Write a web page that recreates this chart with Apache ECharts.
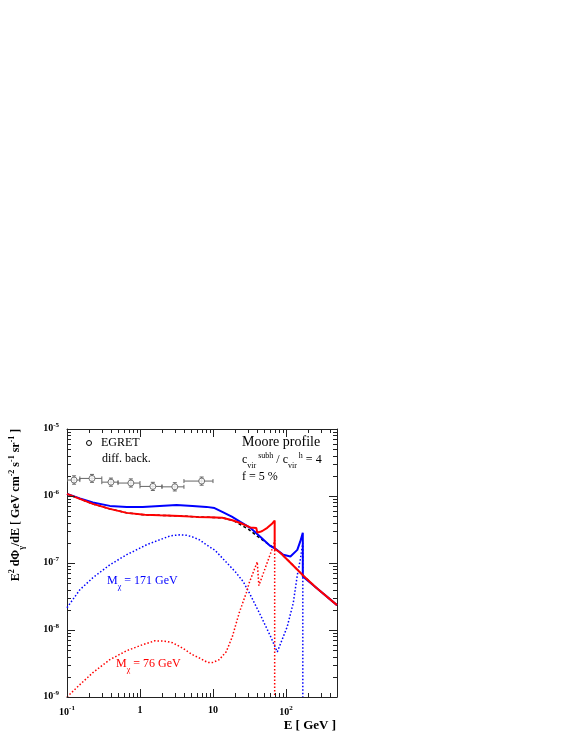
<!DOCTYPE html>
<html>
<head>
<meta charset="utf-8">
<script src="https://cdn.jsdelivr.net/npm/echarts@6/dist/echarts.min.js"></script>
<style>
  html, body { margin: 0; padding: 0; background: #fff; }
  #chart { width: 581px; height: 752px; }
</style>
</head>
<body>
<div id="chart"></div>
<script>
  // ---- data (E in GeV, E^2 dPhi/dE) ----
  const bgE = [0.1, 0.15, 0.226, 0.386, 0.658, 1.16, 1.86, 3.48, 5.94, 8.93, 13.4, 18.9, 30.4, 41.8, 64.9, 70.6, 83.5, 115, 173, 260, 500];
  const bgFlux = [1.075e-6, 9.06e-7, 7.62e-7, 6.42e-7, 5.6e-7, 5.23e-7, 5.14e-7, 5.05e-7, 4.88e-7, 4.80e-7, 4.72e-7, 4.3e-7, 3.2e-7, 2.45e-7, 1.74e-7, 1.63e-7, 1.42e-7, 1.01e-7, 6.45e-8, 4.27e-8, 2.35e-8];

  const redTotE = [0.1, 0.15, 0.226, 0.386, 0.658, 1.16, 1.86, 3.48, 5.94, 8.93, 13.4, 18.4, 23.7, 32.4, 39.2, 40.4, 44.4, 47.3, 55.4, 64.9, 70, 70, 83.5, 115, 173, 260, 500];
  const redTotFlux = [1.075e-6, 9.06e-7, 7.62e-7, 6.42e-7, 5.6e-7, 5.23e-7, 5.14e-7, 5.05e-7, 4.88e-7, 4.80e-7, 4.72e-7, 4.35e-7, 3.95e-7, 3.4e-7, 3.32e-7, 2.85e-7, 2.92e-7, 3.0e-7, 3.35e-7, 3.9e-7, 4.3e-7, 1.63e-7, 1.42e-7, 1.01e-7, 6.45e-8, 4.27e-8, 2.35e-8];

  const blueTotE = [0.1, 0.15, 0.226, 0.386, 0.658, 1.09, 1.86, 3.17, 5.24, 8.13, 10.5, 13.4, 18.1, 23.7, 32.4, 44.4, 60.9, 71.8, 91.8, 115, 143, 157, 170, 170, 260, 500];
  const blueTotFlux = [1.075e-6, 9.2e-7, 7.98e-7, 7.12e-7, 6.88e-7, 6.88e-7, 7.12e-7, 7.37e-7, 7.12e-7, 6.88e-7, 6.6e-7, 5.8e-7, 4.93e-7, 4.11e-7, 3.35e-7, 2.46e-7, 1.80e-7, 1.63e-7, 1.33e-7, 1.25e-7, 1.57e-7, 2.1e-7, 2.82e-7, 6.3e-8, 4.27e-8, 2.35e-8];

  const blueDmE = [0.1, 0.15, 0.226, 0.386, 0.658, 1.23, 1.86, 2.6, 3.48, 4.3, 5.24, 6.5, 8.13, 10.7, 13.4, 20.2, 26.0, 32.4, 44.4, 60.9, 76, 104, 126, 143, 157, 170, 170];
  const blueDmFlux = [2.15e-8, 3.99e-8, 6.03e-8, 9.4e-8, 1.33e-7, 1.87e-7, 2.22e-7, 2.54e-7, 2.63e-7, 2.6e-7, 2.45e-7, 2.22e-7, 1.87e-7, 1.54e-7, 1.19e-7, 7.4e-8, 5.25e-8, 3.37e-8, 1.69e-8, 8.2e-9, 4.7e-9, 1.12e-8, 2.55e-8, 6.6e-8, 1.12e-7, 2.0e-7, 1e-9];

  const redDmE = [0.1, 0.15, 0.226, 0.386, 0.658, 1.09, 1.6, 2.2, 2.79, 3.8, 5.24, 6.8, 8.39, 9.82, 12.2, 15.2, 18.4, 22.9, 28.6, 31.4, 40.4, 42.5, 67, 70, 70];
  const redDmFlux = [1.0e-9, 1.53e-9, 2.31e-9, 3.61e-9, 4.91e-9, 6.04e-9, 6.9e-9, 6.8e-9, 6.46e-9, 5.4e-9, 4.28e-9, 3.73e-9, 3.29e-9, 3.26e-9, 3.61e-9, 4.75e-9, 7.94e-9, 1.81e-8, 3.6e-8, 5.07e-8, 1.04e-7, 4.6e-8, 1.8e-7, 2.2e-7, 1e-9];

  // EGRET diffuse background points
  const egretE = [0.125, 0.22, 0.4, 0.75, 1.5, 3.0, 7.0];
  const egretBinLo = [0.1, 0.15, 0.3, 0.5, 1, 2, 4];
  const egretBinHi = [0.15, 0.3, 0.5, 1, 2, 4, 10];
  const egretFlux = [1.73e-6, 1.83e-6, 1.61e-6, 1.56e-6, 1.39e-6, 1.37e-6, 1.67e-6];
  const egretErrLo = [1.5e-6, 1.6e-6, 1.4e-6, 1.36e-6, 1.21e-6, 1.19e-6, 1.45e-6];
  const egretErrHi = [2.0e-6, 2.1e-6, 1.85e-6, 1.8e-6, 1.6e-6, 1.58e-6, 1.92e-6];

  // axis ticks
  const xDecades = [0.1, 1, 10, 100];
  const yDecades = [1e-9, 1e-8, 1e-7, 1e-6, 1e-5];
  const minorMult = [2, 3, 4, 5, 6, 7, 8, 9];

  const X_MIN = 0.1, X_MAX = 500, Y_MIN = 1e-9, Y_MAX = 1e-5;
  const SERIF = 'Liberation Serif';

  function zip(a, b) { return a.map((v, i) => [v, b[i]]); }

  function rich(size, color, bold) {
    const w = bold ? 'bold' : 'normal';
    const pad = Math.round(size * 0.3);
    const small = Math.round(size * 0.7);
    return {
      n: { fontFamily: SERIF, fontSize: size, fontWeight: w, color: color, fill: color, verticalAlign: 'bottom', padding: [0, 0, pad, 0] },
      sub: { fontFamily: SERIF, fontSize: small, fontWeight: w, color: color, fill: color, verticalAlign: 'bottom', padding: [0, 0, 0, 0] },
      sup: { fontFamily: SERIF, fontSize: small, fontWeight: w, color: color, fill: color, verticalAlign: 'bottom', padding: [0, 0, pad + Math.round(size * 0.5), 0] }
    };
  }

  function powLabel(v) {
    const e = Math.log10(v);
    const r = Math.round(e);
    if (Math.abs(e - r) > 1e-6) return '';
    if (r === 0) return '{n|1}';
    if (r === 1) return '{n|10}';
    return '{n|10}{sup|' + r + '}';
  }

  // tick marks data: [x, y, kind(0=x,1=y), length]
  const tickData = [];
  xDecades.forEach(d => {
    tickData.push([d, Y_MIN, 0, 8]);
    minorMult.forEach(m => { if (d * m < X_MAX) tickData.push([d * m, Y_MIN, 0, 4]); });
  });
  yDecades.forEach(d => {
    tickData.push([X_MIN, d, 1, 8]);
    if (d < Y_MAX) minorMult.forEach(m => tickData.push([X_MIN, d * m, 1, 4]));
  });

  const egretData = egretE.map((e, i) => [e, egretFlux[i], egretBinLo[i], egretBinHi[i], egretErrLo[i], egretErrHi[i]]);

  const chart = echarts.init(document.getElementById('chart'));
  const axisColor = '#222';

  function curve(name, xs, ys, color, width, dash) {
    return {
      type: 'line', name: name, data: zip(xs, ys), showSymbol: false, clip: true,
      lineStyle: { color: color, width: width, type: dash || 'solid' }
    };
  }

  const option = {
    animation: false,
    grid: { left: 67, right: 244, top: 429, bottom: 55 },
    xAxis: [
      {
        type: 'log', logBase: 10, min: X_MIN, max: X_MAX, position: 'bottom',
        axisLine: { show: true, lineStyle: { color: axisColor, width: 1 } },
        axisTick: { show: false }, splitLine: { show: false },
        axisLabel: { margin: 8, formatter: powLabel, rich: rich(10, '#000', true), showMaxLabel: false }
      },
      {
        type: 'log', logBase: 10, min: X_MIN, max: X_MAX, position: 'top',
        axisLine: { show: true, lineStyle: { color: axisColor, width: 1 } },
        axisTick: { show: false }, splitLine: { show: false }, axisLabel: { show: false }
      }
    ],
    yAxis: [
      {
        type: 'log', logBase: 10, min: Y_MIN, max: Y_MAX, position: 'left',
        axisLine: { show: true, lineStyle: { color: axisColor, width: 1 } },
        axisTick: { show: false }, splitLine: { show: false },
        axisLabel: { margin: 8, formatter: powLabel, rich: rich(10, '#000', true) }
      },
      {
        type: 'log', logBase: 10, min: Y_MIN, max: Y_MAX, position: 'right',
        axisLine: { show: true, lineStyle: { color: axisColor, width: 1 } },
        axisTick: { show: false }, splitLine: { show: false }, axisLabel: { show: false }
      }
    ],
    graphic: [
      { type: 'circle', shape: { cx: 89, cy: 443, r: 2.5 }, style: { fill: '#fff', stroke: '#000', lineWidth: 1 } },
      { type: 'text', x: 101, y: 443, style: { text: 'EGRET', font: '12px "Liberation Serif"', fill: '#000', align: 'left', verticalAlign: 'middle' } },
      { type: 'text', x: 102, y: 459, style: { text: 'diff. back.', font: '12px "Liberation Serif"', fill: '#000', align: 'left', verticalAlign: 'middle' } },
      { type: 'text', x: 242, y: 442, style: { text: 'Moore profile', font: '14px "Liberation Serif"', fill: '#000', align: 'left', verticalAlign: 'middle' } },
      { type: 'text', x: 242, y: 461, style: { text: '{n|c}{sub|vir}{sup| subh}{n| / c}{sub|vir}{sup| h}{n| = 4}', rich: rich(12, '#000', false), align: 'left', verticalAlign: 'middle' } },
      { type: 'text', x: 242, y: 477, style: { text: 'f = 5 %', font: '12px "Liberation Serif"', fill: '#000', align: 'left', verticalAlign: 'middle' } },
      { type: 'text', x: 107, y: 583, style: { text: '{n|M}{sub|χ}{n| = 171 GeV}', rich: rich(12, '#0000ff', false), align: 'left', verticalAlign: 'middle' } },
      { type: 'text', x: 116, y: 666, style: { text: '{n|M}{sub|χ}{n| = 76 GeV}', rich: rich(12, '#ff0000', false), align: 'left', verticalAlign: 'middle' } },
      { type: 'text', x: 336, y: 726, style: { text: 'E [ GeV ]', font: 'bold 13px "Liberation Serif"', fill: '#000', align: 'right', verticalAlign: 'middle' } },
      {
        type: 'text', x: 17, y: 505, rotation: Math.PI / 2,
        style: {
          text: '{n|E}{sup|2}{n| dΦ}{sub|γ}{n|/dE [ GeV cm}{sup|-2}{n| s}{sup|-1}{n| sr}{sup|-1}{n| ]}',
          rich: rich(12, '#000', true), align: 'center', verticalAlign: 'middle'
        }
      }
    ],
    series: [
      {
        type: 'custom', name: 'ticks', xAxisIndex: 0, yAxisIndex: 0, clip: false, silent: true, z: 10,
        encode: { x: 0, y: 1 },
        data: tickData,
        renderItem: function (params, api) {
          const cs = params.coordSys;
          const kind = api.value(2);
          const len = api.value(3);
          const st = { stroke: axisColor, lineWidth: 1 };
          if (kind === 0) {
            const px = Math.round(api.coord([api.value(0), Y_MIN])[0]) + 0.5;
            return { type: 'group', children: [
              { type: 'line', shape: { x1: px, y1: cs.y + cs.height, x2: px, y2: cs.y + cs.height - len }, style: st },
              { type: 'line', shape: { x1: px, y1: cs.y, x2: px, y2: cs.y + len }, style: st }
            ] };
          }
          const py = Math.round(api.coord([X_MIN, api.value(1)])[1]) + 0.5;
          return { type: 'group', children: [
            { type: 'line', shape: { x1: cs.x, y1: py, x2: cs.x + len, y2: py }, style: st },
            { type: 'line', shape: { x1: cs.x + cs.width, y1: py, x2: cs.x + cs.width - len, y2: py }, style: st }
          ] };
        }
      },
      curve('blue DM', blueDmE, blueDmFlux, '#0000ff', 1.5, [1.5, 2]),
      curve('red DM', redDmE, redDmFlux, '#ff0000', 1.5, [1.5, 2]),
      curve('background', bgE, bgFlux, '#000', 1.5, [3, 2.5]),
      curve('blue total', blueTotE, blueTotFlux, '#0000ff', 2),
      curve('red total', redTotE, redTotFlux, '#ff0000', 2),
      {
        type: 'custom', name: 'EGRET errors', data: egretData, encode: { x: 0, y: 1 }, clip: true,
        renderItem: function (params, api) {
          const e = api.value(0), f = api.value(1);
          const pl = api.coord([api.value(2), f]);
          const ph = api.coord([api.value(3), f]);
          const pv1 = api.coord([e, api.value(4)]);
          const pv2 = api.coord([e, api.value(5)]);
          const st = { stroke: '#666', lineWidth: 1 };
          const c = 2;
          return { type: 'group', children: [
            { type: 'line', shape: { x1: pl[0], y1: pl[1], x2: ph[0], y2: ph[1] }, style: st },
            { type: 'line', shape: { x1: pl[0], y1: pl[1] - c, x2: pl[0], y2: pl[1] + c }, style: st },
            { type: 'line', shape: { x1: ph[0], y1: ph[1] - c, x2: ph[0], y2: ph[1] + c }, style: st },
            { type: 'line', shape: { x1: pv1[0], y1: pv1[1], x2: pv2[0], y2: pv2[1] }, style: st },
            { type: 'line', shape: { x1: pv1[0] - c, y1: pv1[1], x2: pv1[0] + c, y2: pv1[1] }, style: st },
            { type: 'line', shape: { x1: pv2[0] - c, y1: pv2[1], x2: pv2[0] + c, y2: pv2[1] }, style: st }
          ] };
        }
      },
      {
        type: 'scatter', name: 'EGRET', data: zip(egretE, egretFlux), symbol: 'circle', symbolSize: 6,
        itemStyle: { color: '#fff', borderColor: '#555', borderWidth: 1 }, z: 5
      }
    ]
  };

  chart.setOption(option);
  window.addEventListener('resize', function () {
    chart.resize();
  });
</script>
</body>
</html>
